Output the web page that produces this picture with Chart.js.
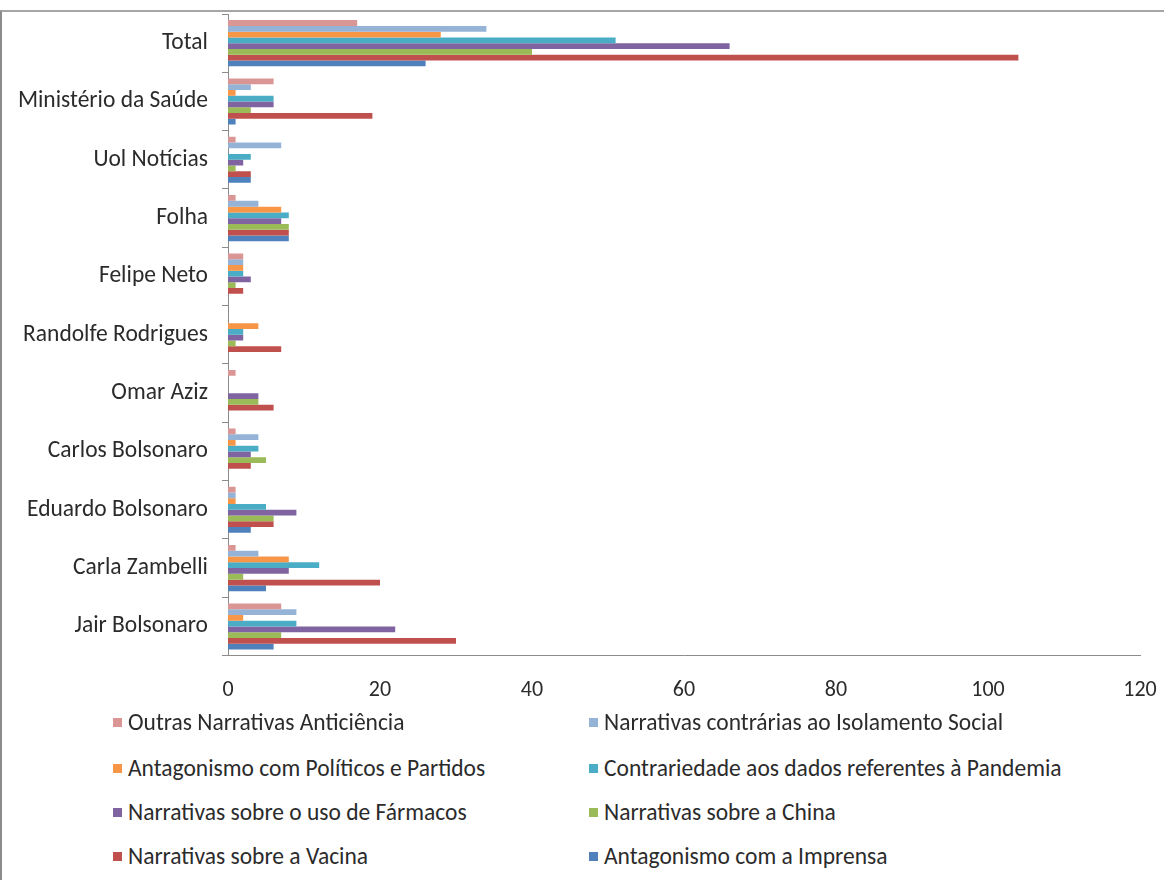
<!DOCTYPE html>
<html>
<head>
<meta charset="utf-8">
<script src="https://cdn.jsdelivr.net/npm/chart.js@4.4.1/dist/chart.umd.min.js"></script>
<style>
  html, body { margin: 0; padding: 0; background: #fff; }
  body { width: 1164px; height: 880px; position: relative; overflow: hidden;
         font-family: Carlito, "Liberation Sans Narrow", "DejaVu Sans Condensed", sans-serif; }
  #frame { position: absolute; left: 0; top: 10px; width: 1170px; height: 880px;
           border-left: 2px solid #8c8c8c; border-top: 2px solid #a6a6a6; box-sizing: border-box; }
  #wrap { position: absolute; left: 0; top: 0; width: 1164px; height: 718px; }
  #legend { position: absolute; left: 0; top: 700px; width: 1164px; }
  .item { position: absolute; display: flex; align-items: center; font-size: 23.5px; color: #2b2b2b; white-space: nowrap; }
  .item span.box { width: 9px; height: 9px; margin-right: 6px; display: inline-block; }
</style>
</head>
<body>
<div id="frame"></div>
<div id="wrap"><canvas id="chart"></canvas></div>
<div id="legend"></div>
<script>
/* DATA */
const categories = ["Total", "Ministério da Saúde", "Uol Notícias", "Folha", "Felipe Neto",
    "Randolfe Rodrigues", "Omar Aziz", "Carlos Bolsonaro", "Eduardo Bolsonaro",
    "Carla Zambelli", "Jair Bolsonaro"];

const outras      = [17, 6, 1, 1, 2, 0, 1, 1, 1, 1, 7];
const isolamento  = [34, 3, 7, 4, 2, 0, 0, 4, 1, 4, 9];
const politicos   = [28, 1, 0, 7, 2, 4, 0, 1, 1, 8, 2];
const dadosPand   = [51, 6, 3, 8, 2, 2, 0, 4, 5, 12, 9];
const farmacos    = [66, 6, 2, 7, 3, 2, 4, 3, 9, 8, 22];
const china       = [40, 3, 1, 8, 1, 1, 4, 5, 6, 2, 7];
const vacina      = [104, 19, 3, 8, 2, 7, 6, 3, 6, 20, 30];
const imprensa    = [26, 1, 3, 8, 0, 0, 0, 0, 3, 5, 6];

const seriesNames = ["Outras Narrativas Anticiência", "Narrativas contrárias ao Isolamento Social",
    "Antagonismo com Políticos e Partidos", "Contrariedade aos dados referentes à Pandemia",
    "Narrativas sobre o uso de Fármacos", "Narrativas sobre a China",
    "Narrativas sobre a Vacina", "Antagonismo com a Imprensa"];
const seriesData = [outras, isolamento, politicos, dadosPand, farmacos, china, vacina, imprensa];
const seriesColors = ["#D99694", "#95B3D7", "#F79646", "#4BACC6", "#8064A2", "#9BBB59", "#C0504D", "#4F81BD"];

const xTicks = [0, 20, 40, 60, 80, 100, 120];

const FONT = 'Carlito, "Liberation Sans Narrow", "DejaVu Sans Condensed", sans-serif';

/* CHART */
let ctx = document.getElementById("chart").getContext("2d");

let chart = new Chart(ctx, {
    type: 'bar',
    data: {
        labels: categories,
        datasets: seriesNames.map((name, i) => ({
            label: name,
            data: seriesData[i],
            backgroundColor: seriesColors[i],
            borderWidth: 0,
            categoryPercentage: 0.79,
            barPercentage: 1.0
        }))
    },
    options: {
        indexAxis: 'y',
        responsive: true,
        maintainAspectRatio: false,
        animation: false,
        layout: { padding: { top: 14, right: 24, bottom: 0, left: 0 } },
        plugins: {
            legend: { display: false },
            tooltip: { enabled: false }
        },
        scales: {
            x: {
                min: 0,
                max: 120,
                afterBuildTicks: axis => { axis.ticks = xTicks.map(v => ({ value: v })); },
                afterFit: axis => { axis.paddingRight = 0; axis.paddingLeft = 0; },
                grid: { display: false },
                border: { display: true, color: '#8c8c8c', width: 1 },
                ticks: { font: { family: FONT, size: 22 }, color: '#2b2b2b', padding: 14 }
            },
            y: {
                afterFit: axis => { axis.width = 228; axis.paddingTop = 0; axis.paddingBottom = 0; },
                grid: { drawOnChartArea: false, drawTicks: true, tickLength: 6, color: '#8c8c8c', offset: true },
                border: { display: true, color: '#8c8c8c', width: 1 },
                ticks: { font: { family: FONT, size: 23.5 }, color: '#2b2b2b', padding: 14 }
            }
        }
    }
});

/* LEGEND (two columns, built from datasets) */
const legendEl = document.getElementById("legend");
const colX = [113, 589];
const rowY = [8, 54, 98, 142];
chart.data.datasets.forEach((ds, i) => {
    let div = document.createElement("div");
    div.className = "item";
    div.style.left = colX[i % 2] + "px";
    div.style.top = rowY[Math.floor(i / 2)] + "px";
    let box = document.createElement("span");
    box.className = "box";
    box.style.background = ds.backgroundColor;
    div.appendChild(box);
    div.appendChild(document.createTextNode(ds.label));
    legendEl.appendChild(div);
});
</script>
</body>
</html>
